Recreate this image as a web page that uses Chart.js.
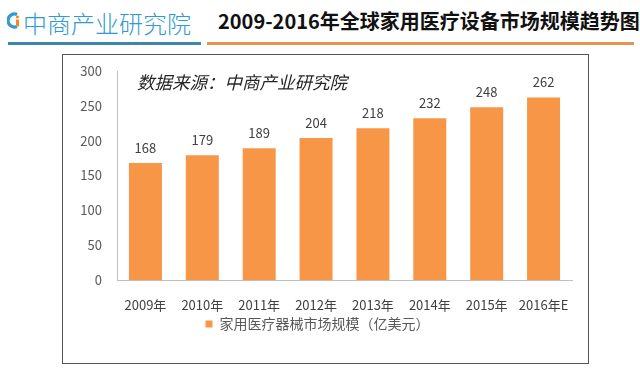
<!DOCTYPE html>
<html>
<head>
<meta charset="utf-8">
<script src="https://cdn.jsdelivr.net/npm/chart.js@4"></script>
<style>
  html, body { margin: 0; padding: 0; background: #fff; }
  body { width: 640px; height: 379px; position: relative; overflow: hidden; font-family: 'Noto Sans CJK SC', sans-serif; }
  .logo-icon { position: absolute; left: 7px; top: 12px; }
  .logo-text { position: absolute; left: 23px; top: 5px; font-size: 24px; color: #2f9bd3; white-space: nowrap; font-weight: 300; }
  .title { position: absolute; left: 218px; top: 6px; font-size: 20px; font-weight: bold; color: #111; white-space: nowrap; }
  .line-blue { position: absolute; left: 8px; top: 42px; width: 193px; height: 3px; background: #3f86ab; }
  .line-orange { position: absolute; left: 207px; top: 42px; width: 427px; height: 3px; background: #e39451; }
  .frame { position: absolute; left: 62px; top: 54px; width: 525px; height: 308px; border: 1.5px solid #555; box-sizing: content-box; }
  #c { position: absolute; left: 63px; top: 55px; }
  .note { position: absolute; left: 137px; top: 69px; font-size: 17.5px; font-style: italic; color: #262626; white-space: nowrap; }
</style>
</head>
<body>
<svg class="logo-icon" width="14" height="17" viewBox="0 0 14 17">
  <path d="M10 2.5 A6.5 6.5 0 1 0 10 14.5" fill="none" stroke="#2f9bd3" stroke-width="3.2"/>
  <circle cx="10.5" cy="5" r="1.6" fill="#f08a2c"/>
  <rect x="9" y="7.5" width="3" height="7" fill="#f08a2c"/>
</svg>
<div class="logo-text">中商产业研究院</div>
<div class="title">2009-2016年全球家用医疗设备市场规模趋势图</div>
<div class="line-blue"></div>
<div class="line-orange"></div>
<div class="frame"></div>
<canvas id="c" width="525" height="308"></canvas>
<div class="note">数据来源：中商产业研究院</div>
<script>
const categories = ['2009年', '2010年', '2011年', '2012年', '2013年', '2014年', '2015年', '2016年E'];
const marketSize = [168, 179, 189, 204, 218, 232, 248, 262];
const seriesName = '家用医疗器械市场规模（亿美元）';
const yTicks = [0, 50, 100, 150, 200, 250, 300];

const FONT = "'Noto Sans CJK SC', sans-serif";

const valueLabels = {
  id: 'valueLabels',
  afterDatasetsDraw(chart) {
    const ctx = chart.ctx;
    const meta = chart.getDatasetMeta(0);
    ctx.save();
    ctx.font = '13px ' + FONT;
    ctx.fillStyle = '#404040';
    ctx.textAlign = 'center';
    ctx.textBaseline = 'middle';
    meta.data.forEach((bar, i) => {
      ctx.fillText(String(chart.data.datasets[0].data[i]), bar.x, bar.y - 15);
    });
    ctx.restore();
  }
};

new Chart(document.getElementById('c'), {
  type: 'bar',
  data: {
    labels: categories,
    datasets: [{
      label: seriesName,
      data: marketSize,
      backgroundColor: '#F79646',
      borderWidth: 0,
      categoryPercentage: 1.0,
      barPercentage: 0.58
    }]
  },
  options: {
    responsive: false,
    animation: false,
    devicePixelRatio: 1,
    layout: { padding: { top: 16, right: 16, left: 0, bottom: 22 } },
    plugins: {
      legend: {
        position: 'bottom',
        labels: {
          boxWidth: 7, boxHeight: 7, padding: 4,
          color: '#595959',
          font: { family: FONT, size: 14 }
        }
      },
      tooltip: { enabled: false }
    },
    scales: {
      x: {
        grid: { display: false, drawTicks: false },
        border: { display: true, color: '#bfbfbf', width: 1 },
        ticks: { color: '#404040', font: { family: FONT, size: 13 }, padding: 17, maxRotation: 0, autoSkip: false },
        afterFit(s) { s.height = 33; s.paddingLeft = 0; s.paddingRight = 0; }
      },
      y: {
        min: 0, max: 300,
        grid: { display: false, drawTicks: false },
        border: { display: true, color: '#bfbfbf', width: 1 },
        afterBuildTicks(s) { s.ticks = yTicks.map(v => ({ value: v })); },
        ticks: { color: '#595959', font: { family: FONT, size: 13 }, padding: 15 },
        afterFit(s) { s.width = 54; s.paddingTop = 0; s.paddingBottom = 0; }
      }
    }
  },
  plugins: [valueLabels]
});
</script>
</body>
</html>
